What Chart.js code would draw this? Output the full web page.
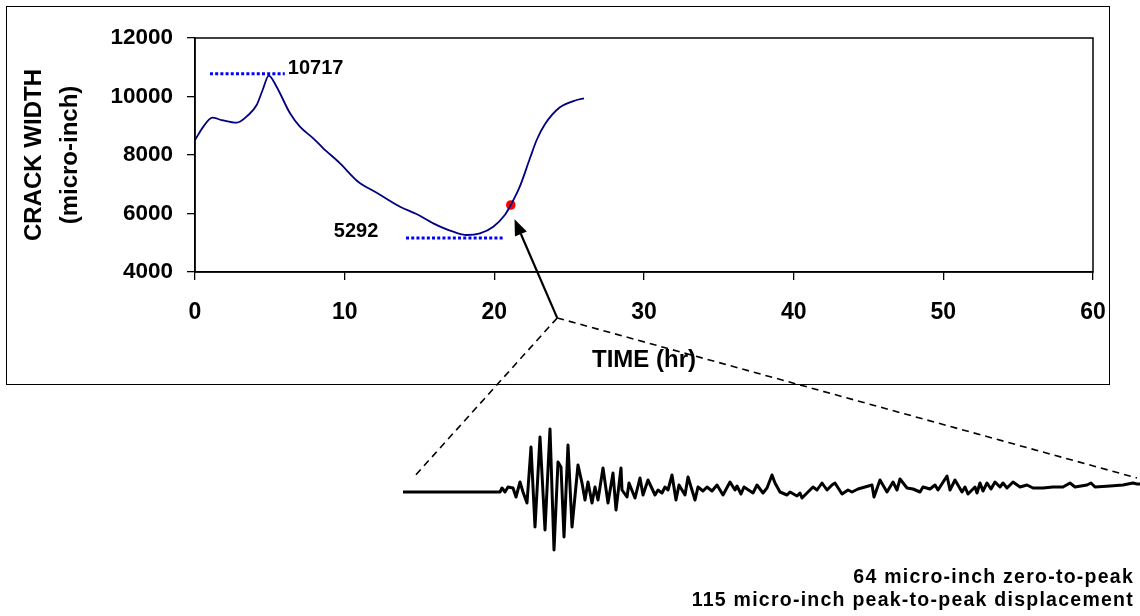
<!DOCTYPE html>
<html><head><meta charset="utf-8">
<script src="https://cdn.jsdelivr.net/npm/chart.js@4.4.0/dist/chart.umd.min.js"></script>
<style>
html,body{margin:0;padding:0;background:#fff;}
#wrap{position:relative;width:1140px;height:616px;overflow:hidden;background:#fff;}
#frame{position:absolute;left:6px;top:6px;width:1102px;height:377px;border:1px solid #000;}
canvas{position:absolute;left:0;top:0;}
#caption{position:absolute;right:6px;top:565px;font:bold 19.5px "Liberation Sans",Arial,sans-serif;letter-spacing:1.25px;text-align:right;line-height:23px;color:#000;white-space:nowrap;}
</style></head>
<body><div id="wrap"><div id="frame"></div>
<canvas id="main" width="1140" height="616"></canvas>
<canvas id="wave" width="1140" height="616"></canvas>
<div id="caption">64 micro-inch zero-to-peak<br>115 micro-inch peak-to-peak displacement</div>
</div>
<script>
// ---- Crack width history (hours, micro-inch) ----
const timeHr = [0, 0.56, 1.16, 1.78, 2.78, 3.56, 4.12, 4.52, 4.93, 5.45, 6.35, 7.01, 7.9, 8.57, 9.69, 10.9, 12.14, 13.7, 14.8, 15.92, 17.25, 18.15, 19.04, 19.93, 20.7, 21.1, 21.7, 22.38, 22.83, 23.38, 24.38, 25.5, 25.99];
const crackWidth = [8513, 8970, 9276, 9196, 9104, 9367, 9709, 10222, 10717, 10335, 9425, 8967, 8570, 8229, 7716, 7087, 6711, 6232, 5983, 5664, 5378, 5265, 5322, 5550, 5949, 6290, 6916, 7887, 8513, 9050, 9630, 9880, 9938];
const eventTime = [21.1];
const eventWidth = [6290];
const peakLineTime = [1.0, 6.0];
const peakLineWidth = [10780, 10780];
const minLineTime = [14.1, 20.7];
const minLineWidth = [5160, 5160];
const peakLabel = '10717';
const minLabel = '5292';
const peakLabelAt = [6.2, 10950];
const minLabelAt = [12.25, 5370];
const xTickValues = [0, 10, 20, 30, 40, 50, 60];
const yTickValues = [4000, 6000, 8000, 10000, 12000];
const arrowTail = [24.2, 2430];
const arrowHead = [21.35, 5800];

// ---- Event record (sample, micro-inch) ----
const waveSample = [0, 97, 99, 102, 105, 110, 113, 117, 120, 124, 128, 132, 137, 142, 147, 151, 155, 158, 161, 165, 169, 175, 179, 182, 185, 189, 192, 195, 200, 205, 210, 213, 218, 219, 224, 226, 232, 237, 240, 245, 252, 255, 259, 262, 265, 269, 273, 276, 282, 285, 292, 295, 300, 304, 309, 314, 320, 327, 332, 334, 338, 341, 350, 354, 360, 364, 369, 372, 377, 384, 387, 394, 397, 399, 405, 410, 414, 419, 424, 429, 432, 439, 445, 449, 455, 462, 469, 471, 477, 484, 490, 494, 497, 504, 510, 517, 520, 527, 532, 535, 544, 547, 552, 559, 562, 565, 572, 574, 577, 580, 584, 588, 592, 597, 600, 604, 610, 617, 624, 630, 640, 650, 660, 667, 672, 684, 688, 692, 707, 720, 730, 734, 737];
const waveValue = [0, 0, 4, 0, 5, 4, -5, 10, 0, -11, 45, -35, 55, -38, 63, -58, 30, 25, -45, 47, -35, 27, 9, -8, 10, -11, 5, -8, 24, -11, 19, -18, 24, 2, -5, 9, -6, 14, -3, 12, -3, 2, -1, 5, 2, 17, -8, 7, -3, 15, -8, 5, 1, 5, 1, 7, -3, 10, 2, 6, -2, 5, -1, 7, -1, 4, 17, 9, 0, -3, 0, -4, -1, -6, 0, 5, 2, 9, 2, 7, 9, -2, 2, 0, 3, 5, 7, -5, 12, 0, 10, 2, 13, 4, 3, 0, 5, 3, 7, 2, 16, 2, 12, 0, 5, -2, 5, -1, 9, 1, 9, 3, 10, 5, 9, 4, 10, 5, 7, 4, 4, 5, 5, 9, 5, 7, 9, 5, 6, 7, 9, 8, 8];
const waveLeaderSample = [10, 734];
const waveLeaderValue = [14, 14];

const FONT = "'Liberation Sans', Arial, sans-serif";

const mainDecor = {
  id: 'mainDecor',
  afterDatasetsDraw(chart) {
    const {ctx, chartArea: a, scales: {x, y}} = chart;
    ctx.save();
    ctx.strokeStyle = '#000';
    ctx.lineWidth = 1.5;
    ctx.strokeRect(a.left, a.top, a.right - a.left, a.bottom - a.top);
    ctx.fillStyle = '#000';
    ctx.font = 'bold 20px ' + FONT;
    ctx.textBaseline = 'middle';
    ctx.textAlign = 'left';
    ctx.fillText(peakLabel, x.getPixelForValue(peakLabelAt[0]), y.getPixelForValue(peakLabelAt[1]));
    ctx.textAlign = 'right';
    ctx.fillText(minLabel, x.getPixelForValue(minLabelAt[0]), y.getPixelForValue(minLabelAt[1]));
    // arrow
    const tx = x.getPixelForValue(arrowTail[0]), ty = y.getPixelForValue(arrowTail[1]);
    const hx = x.getPixelForValue(arrowHead[0]), hy = y.getPixelForValue(arrowHead[1]);
    const ang = Math.atan2(hy - ty, hx - tx);
    const L = 16, W = 6.5;
    const bx = hx - L * Math.cos(ang), by = hy - L * Math.sin(ang);
    ctx.lineWidth = 2.2;
    ctx.beginPath(); ctx.moveTo(tx, ty); ctx.lineTo(bx, by); ctx.stroke();
    ctx.beginPath();
    ctx.moveTo(hx, hy);
    ctx.lineTo(bx + W * Math.sin(ang), by - W * Math.cos(ang));
    ctx.lineTo(bx - W * Math.sin(ang), by + W * Math.cos(ang));
    ctx.closePath(); ctx.fill();
    ctx.restore();
  }
};

const mainChart = new Chart(document.getElementById('main'), {
  type: 'line',
  data: {
    datasets: [
      {
        data: timeHr.map((t, i) => ({x: t, y: crackWidth[i]})),
        borderColor: '#000080', borderWidth: 1.8, pointRadius: 0,
        cubicInterpolationMode: 'monotone', fill: false
      },
      {
        data: peakLineTime.map((t, i) => ({x: t, y: peakLineWidth[i]})),
        borderColor: '#0000FF', borderWidth: 3, borderDash: [3, 2.2], pointRadius: 0, borderCapStyle: 'butt'
      },
      {
        data: minLineTime.map((t, i) => ({x: t, y: minLineWidth[i]})),
        borderColor: '#0000FF', borderWidth: 3, borderDash: [3, 2.2], pointRadius: 0, borderCapStyle: 'butt'
      },
      {
        data: eventTime.map((t, i) => ({x: t, y: eventWidth[i]})),
        showLine: false, pointRadius: 4.8, pointBackgroundColor: '#FF0000', pointBorderColor: '#FF0000', pointBorderWidth: 0
      }
    ]
  },
  options: {
    responsive: false, animation: false, events: [],
    layout: {padding: {left: 0, top: 38, right: 47, bottom: 216}},
    plugins: {legend: {display: false}, tooltip: {enabled: false}},
    scales: {
      x: {
        type: 'linear', min: 0, max: 60,
        afterBuildTicks: s => { s.ticks = xTickValues.map(v => ({value: v})); },
        afterFit: s => { s.height = 128; },
        grid: {drawOnChartArea: false, drawTicks: true, tickLength: 8, color: '#000', lineWidth: 1.3},
        border: {display: true, color: '#000', width: 1.5},
        ticks: {color: '#000', padding: 19, font: {family: FONT, size: 23, weight: 'bold'}, maxRotation: 0, callback: v => String(v)},
        title: {display: true, text: 'TIME (hr)', color: '#000', font: {family: FONT, size: 24, weight: 'bold'}, padding: {top: 0, bottom: 25.6}}
      },
      y: {
        min: 4000, max: 12000,
        afterBuildTicks: s => { s.ticks = yTickValues.map(v => ({value: v})); },
        afterFit: s => { s.width = 195; },
        grid: {drawOnChartArea: false, drawTicks: true, tickLength: 8, color: '#000', lineWidth: 1.3},
        border: {display: true, color: '#000', width: 1.5},
        ticks: {color: '#000', padding: 14, font: {family: FONT, size: 22.5, weight: 'bold'}, callback: v => String(v)},
        title: {display: true, text: ['CRACK WIDTH', '(micro-inch)'], color: '#000', font: {family: FONT, size: 24, weight: 'bold', lineHeight: 1.5}, padding: {top: 16, bottom: 0}}
      }
    }
  },
  plugins: [mainDecor]
});

const waveDecor = {
  id: 'waveDecor',
  afterDatasetsDraw(chart) {
    const {ctx, scales: {x, y}} = chart;
    const mx = mainChart.scales.x, my = mainChart.scales.y;
    const tx = mx.getPixelForValue(arrowTail[0]), ty = my.getPixelForValue(arrowTail[1]);
    ctx.save();
    ctx.strokeStyle = '#000'; ctx.lineWidth = 1.6; ctx.setLineDash([7, 5]);
    for (let i = 0; i < waveLeaderSample.length; i++) {
      ctx.beginPath();
      ctx.moveTo(tx, ty);
      ctx.lineTo(x.getPixelForValue(waveLeaderSample[i]), y.getPixelForValue(waveLeaderValue[i]));
      ctx.stroke();
    }
    ctx.restore();
  }
};

new Chart(document.getElementById('wave'), {
  type: 'line',
  data: {
    datasets: [{
      data: waveSample.map((s, i) => ({x: s, y: waveValue[i]})),
      borderColor: '#000', borderWidth: 3, pointRadius: 0, tension: 0, clip: false, borderJoinStyle: 'round'
    }]
  },
  options: {
    responsive: false, animation: false, events: [],
    layout: {padding: {left: 403, top: 400, right: 0, bottom: 46}},
    plugins: {legend: {display: false}, tooltip: {enabled: false}},
    scales: {
      x: {type: 'linear', min: 0, max: 737, display: false},
      y: {min: -78, max: 92, display: false}
    }
  },
  plugins: [waveDecor]
});
</script>
</body></html>
